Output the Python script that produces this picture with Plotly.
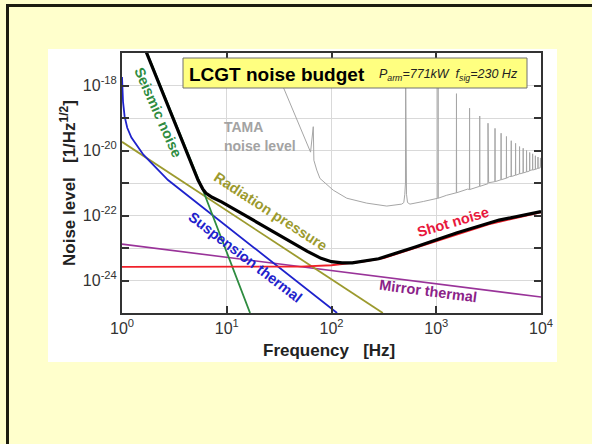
import plotly.graph_objects as go

# ---------------- data ----------------
seis_f = [1.5, 5.89, 16.7]
seis_h = [3.2e-17, 6.3e-22, 1.0e-25]

rad_f = [1.0, 309.0]
rad_h = [1.85e-20, 1.0e-25]

susp_f = [1.0, 1.023, 1.059, 1.122, 1.23, 1.413, 1.6, 2.748, 113.0]
susp_h = [1.82e-18, 3.16e-19, 1.12e-19, 5.0e-20, 2.5e-20, 1.26e-20, 7.4e-21, 1.23e-21, 1.0e-25]

mirr_f = [1.0, 1.0e4]
mirr_h = [1.32e-23, 3.1e-25]

shot_f = [1, 50, 100, 141, 200, 316, 501, 1000, 3162, 10000]
shot_h = [2.63e-24, 2.69e-24, 2.95e-24, 3.39e-24, 3.80e-24, 4.90e-24, 7.94e-24,
          1.66e-23, 5.37e-23, 1.26e-22]

total_f = [1.6, 1.718, 5.32, 5.89, 6.31, 7.24, 8.91, 15.85, 31.6, 58.9, 79.4, 100,
           126, 158, 282, 631, 1585, 3981, 10000]
total_h = [1.8e-17, 1.0e-17, 1.23e-21, 6.6e-22, 4.9e-22, 3.63e-22, 2.63e-22, 8.9e-23,
           2.51e-23, 7.9e-24, 4.8e-24, 3.8e-24, 3.47e-24, 3.47e-24, 4.68e-24,
           1.07e-23, 2.95e-23, 7.24e-23, 1.32e-22]

# TAMA noise level: smooth floor plus violin-mode spikes
tama_f = [30.3, 35.0, 63.1, 67.0, 67.9, 72.3, 77.6, 104, 140, 217, 337, 468, 490,
          501, 520, 532, 561, 753, 973, 1259, 1995, 3162, 5012, 7943, 10000]
tama_h = [2.5e-18, 8.1e-19, 8.9e-21, 5.4e-20, 5.0e-21, 2.5e-21, 1.38e-21, 6.0e-22,
          3.4e-22, 2.4e-22, 1.95e-22, 2.24e-22, 2.5e-22, 4.5e-22, 4.5e-22, 2.5e-22,
          2.24e-22, 2.7e-22, 3.24e-22, 4.2e-22, 6.5e-22, 1.02e-21, 1.58e-21,
          2.5e-21, 3.2e-21]
spike_f = [510, 1040, 1560, 2080, 2600, 3120, 3640, 4160, 4680, 5200, 5720, 6240,
           6760, 7280, 7800, 8320, 8840, 9360, 9880]
spike_top = [5e-18, 5e-18, 5.6e-19, 2.0e-19, 1.15e-19, 6.9e-20, 4.8e-20, 3.4e-20,
             2.7e-20, 2.0e-20, 1.66e-20, 1.32e-20, 1.17e-20, 1.0e-20, 8.7e-21,
             7.9e-21, 6.9e-21, 6.3e-21, 5.9e-21]
spike_base = [1.0e-21, 3.4e-22, 5.0e-22, 6.3e-22, 7.9e-22, 9.5e-22, 1.1e-21,
              1.26e-21, 1.41e-21, 1.58e-21, 1.74e-21, 1.91e-21, 2.04e-21, 2.19e-21,
              2.34e-21, 2.51e-21, 2.63e-21, 2.82e-21, 2.95e-21]

x_tick_vals = [1, 10, 100, 1000, 10000]
x_tick_text = ["10<sup>0</sup>", "10<sup>1</sup>", "10<sup>2</sup>", "10<sup>3</sup>", "10<sup>4</sup>"]
y_tick_vals = [1e-25, 1e-24, 1e-23, 1e-22, 1e-21, 1e-20, 1e-19, 1e-18, 1e-17]
y_tick_text = ["", "10<sup>-24</sup>", "", "10<sup>-22</sup>", "", "10<sup>-20</sup>", "",
               "10<sup>-18</sup>", ""]

# ---------------- build ----------------
FONT = "Liberation Sans, Arial, sans-serif"
W, H = 592, 444
L, R, T, B = 122, 541, 53, 313


def px(x):
    return (x - L) / (R - L)


def py(y):
    return (B - y) / (B - T)


# assemble TAMA line with narrow spikes
pts = list(zip(tama_f, tama_h))
sw = 0.003
for f, top, base in zip(spike_f, spike_top, spike_base):
    pts += [(f * (1 - sw), base), (f, top), (f * (1 + sw), base)]
pts.sort(key=lambda p: p[0])
tama_x = [p[0] for p in pts]
tama_y = [p[1] for p in pts]

fig = go.Figure()


def add_line(x, y, color, width):
    fig.add_trace(go.Scatter(x=x, y=y, mode="lines", line=dict(color=color, width=width),
                             hoverinfo="skip", showlegend=False))


add_line(tama_x, tama_y, "#a6a6a6", 1)
add_line(mirr_f, mirr_h, "#993399", 1.6)
add_line(rad_f, rad_h, "#9c9a2e", 1.8)
add_line(susp_f, susp_h, "#1e22cc", 1.8)
add_line(seis_f, seis_h, "#2e8c40", 1.8)
add_line(shot_f, shot_h, "#f0202a", 1.8)
add_line(total_f, total_h, "#000000", 3.2)

axis_common = dict(
    type="log", ticks="inside", ticklen=7, tickwidth=1.5, tickcolor="#333",
    showline=True, linewidth=2, linecolor="#333", mirror="ticks",
    showgrid=True, gridcolor="#d9d9d9", gridwidth=1, zeroline=False,
    tickfont=dict(family=FONT, size=16, color="#333"),
)
fig.update_xaxes(range=[0, 4], tickvals=x_tick_vals, ticktext=x_tick_text, **axis_common)
fig.update_yaxes(range=[-25, -17], tickvals=y_tick_vals, ticktext=y_tick_text, **axis_common)

shapes = [
    # white panel
    dict(type="rect", xref="paper", yref="paper", x0=px(48), x1=px(557), y0=py(362), y1=py(49),
         fillcolor="white", line=dict(width=0), layer="below"),
    # frame (left and top)
    dict(type="rect", xref="paper", yref="paper", x0=px(6), x1=px(9), y0=py(444), y1=py(4),
         fillcolor="#1c1c10", line=dict(width=0), layer="below"),
    dict(type="rect", xref="paper", yref="paper", x0=px(6), x1=px(592), y0=py(7), y1=py(4),
         fillcolor="#1c1c10", line=dict(width=0), layer="below"),
    # title box
    dict(type="rect", xref="paper", yref="paper", x0=px(183), x1=px(527), y0=py(88), y1=py(58),
         fillcolor="#ffff80", line=dict(color="#707070", width=1), layer="above"),
]

ann = []


def text(x, y, s, size, color, bold=True, angle=0, xanchor="center", yanchor="middle"):
    ann.append(dict(x=px(x), y=py(y), xref="paper", yref="paper", showarrow=False,
                    text=f"<b>{s}</b>" if bold else s, textangle=angle,
                    xanchor=xanchor, yanchor=yanchor,
                    font=dict(family=FONT, size=size, color=color)))


text(187, 74, "LCGT noise budget", 19, "#000", xanchor="left")
text(377, 75, "<i>P<sub>arm</sub>=771kW  f<sub>sig</sub>=230 Hz</i>", 12.5, "#222", bold=False,
     xanchor="left")
text(222, 137, "TAMA", 14, "#a3a3a3", xanchor="left", yanchor="bottom")
text(222, 136, "noise level", 14, "#a3a3a3", xanchor="left", yanchor="top")
text(158, 112, "Seismic noise", 14.5, "#2e8c40", angle=66)
text(270, 211, "Radiation pressure", 14.5, "#9c9a2e", angle=33)
text(245, 257, "Suspension thermal", 14.5, "#1e22cc", angle=37.5)
text(453, 222, "Shot noise", 14.5, "#e8183c", angle=-16.5)
text(428, 291, "Mirror thermal", 14.5, "#8b2288", angle=7.5)
text(329, 350, "Frequency\u00a0\u00a0 [Hz]", 17, "#222")
text(68, 183, "Noise level\u00a0\u00a0 [1/Hz<sup>1/2</sup>]", 17, "#222", angle=-90)

fig.update_layout(
    width=W, height=H,
    margin=dict(l=L, r=W - R, t=T, b=H - B, pad=0),
    paper_bgcolor="#ffffcc", plot_bgcolor="white",
    shapes=shapes, annotations=ann, showlegend=False,
)

fig.write_html(
    "out.html",
    config={"displayModeBar": False},
    post_script="document.body.style.margin='0';document.body.style.overflow='hidden';",
)
